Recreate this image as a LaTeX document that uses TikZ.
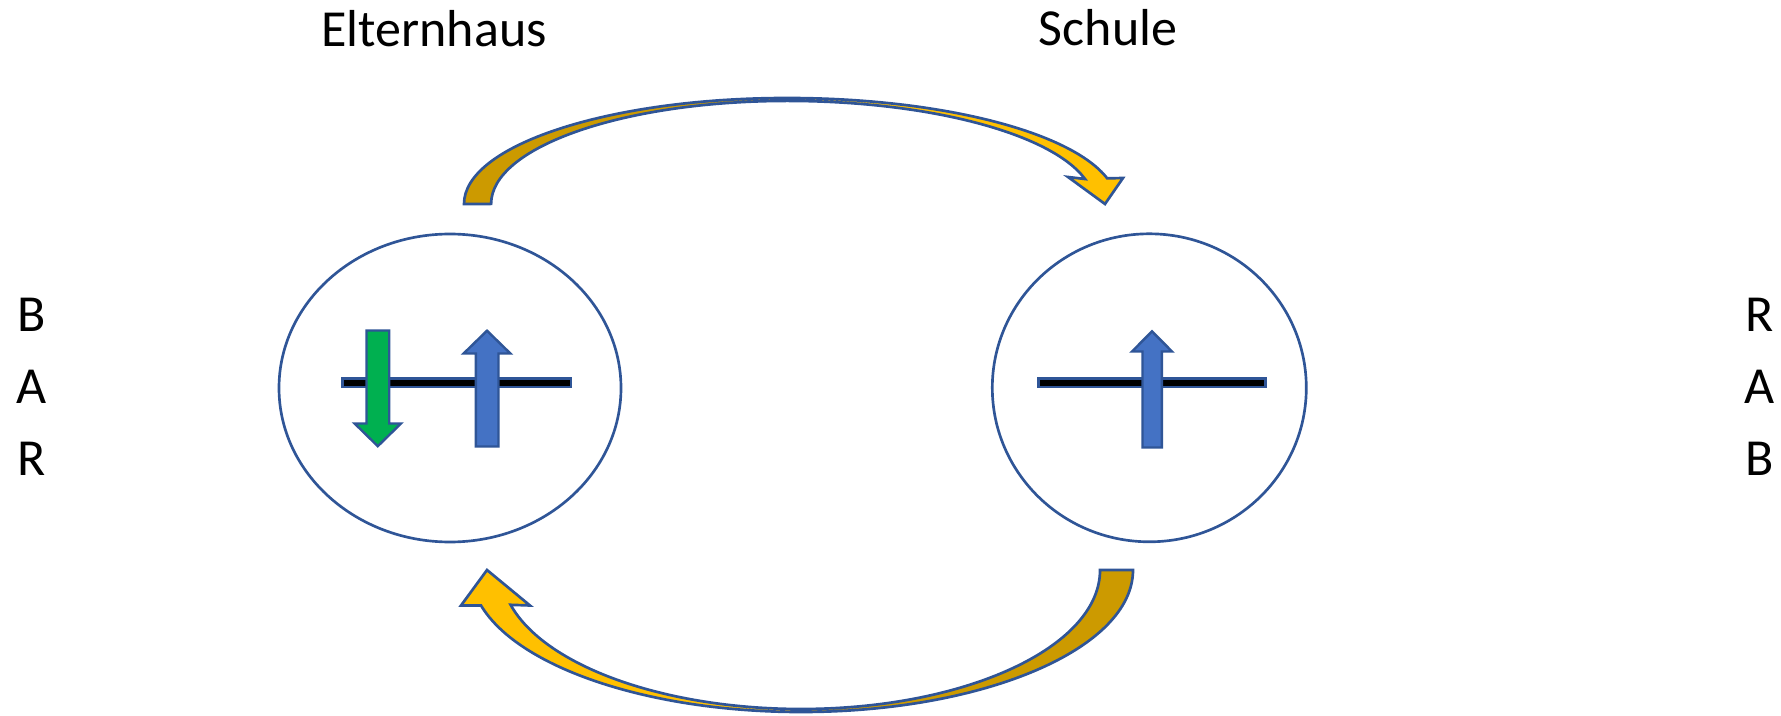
\documentclass[tikz,border=0pt]{standalone}
\usepackage{fontspec}
\setmainfont{Carlito}
\definecolor{rim}{HTML}{2F5597}
\definecolor{gold}{HTML}{FFC000}
\definecolor{darkgold}{HTML}{CC9A00}
\definecolor{spinblue}{HTML}{4472C4}
\definecolor{spingreen}{HTML}{00B050}
\tikzstyle{ring} = [draw=rim, line width=2pt, fill=white]
\tikzstyle{bar} = [draw=rim, line width=2pt, fill=black]
\tikzstyle{spin} = [draw=rim, line width=1.8pt, line join=miter]
\tikzstyle{loopline} = [draw=rim, line width=2pt, line join=miter]
\tikzstyle{headline} = [font=\fontsize{39}{47}\selectfont, anchor=base, inner sep=0pt]

\begin{document}
\begin{tikzpicture}[x=0.75pt,y=0.75pt]
    \useasboundingbox (0,0) rectangle (1781,715);
    \node[headline] (eltern) at (434,668) {Elternhaus};
    \node[headline] (schule) at (1108,669) {Schule};
    \foreach \c [count=\i] in {B,A,R}{
        \node[headline] (left\i) at (32,455-71.7*\i) {\c};
    }
    \foreach \c [count=\i] in {R,A,B}{
        \node[headline] (right\i) at (1760,455-71.7*\i) {\c};
    }
    \draw[ring] (450,327) ellipse [x radius=171, y radius=154];
    \draw[ring] (1149.3,327.2) ellipse [x radius=157, y radius=154];
    \filldraw[bar] (342.3,328) rectangle (571,336.4);
    \filldraw[bar] (1038.6,328) rectangle (1265.4,336.4);
    \filldraw[spin,fill=spingreen] (366.5,384.5) -- (389.2,384.5) -- (389.2,291.5) -- (401,291.5)
        -- (377.8,268.8) -- (354.6,291.5) -- (366.5,291.5) -- cycle;
    \filldraw[spin,fill=spinblue] (475.8,268.5) -- (475.8,361.5) -- (463.6,361.5) -- (487,384.3)
        -- (510.4,361.5) -- (498.5,361.5) -- (498.5,268.5) -- cycle;
    \filldraw[spin,fill=spinblue] (1142.5,267.5) -- (1142.5,363.5) -- (1132,363.5) -- (1152,383.7)
        -- (1172,363.5) -- (1161.9,363.5) -- (1161.9,267.5) -- cycle;
    \fill[darkgold] (464,511) arc[start angle=180, end angle=90, x radius=323, y radius=106]
        -- (787,614) arc[start angle=90, end angle=180, x radius=296, y radius=103] -- cycle;
    \fill[gold] (787,617) arc[start angle=90, end angle=14, x radius=330, y radius=106]
        -- (1123,537) -- (1105,511) -- (1068,538) -- (1085,536)
        arc[start angle=14, end angle=90, x radius=307, y radius=103] -- cycle;
    \draw[loopline] (464,511) arc[start angle=180, end angle=90, x radius=323, y radius=106]
        arc[start angle=90, end angle=14, x radius=330, y radius=106]
        -- (1123,537) -- (1105,511) -- (1068,538) -- (1085,536)
        arc[start angle=14, end angle=90, x radius=307, y radius=103]
        arc[start angle=90, end angle=180, x radius=296, y radius=103] -- cycle;
    \fill[darkgold] (1133,145) arc[start angle=0, end angle=-90, x radius=332, y radius=142]
        -- (801,6) arc[start angle=-90, end angle=0, x radius=299, y radius=139] -- cycle;
    \fill[gold] (801,3) arc[start angle=270, end angle=194.5, x radius=330.5, y radius=142]
        -- (461,109.5) -- (487,145) -- (530,109.5) -- (510.6,110.2)
        arc[start angle=194.5, end angle=270, x radius=300, y radius=139] -- cycle;
    \draw[loopline] (1133,145) arc[start angle=0, end angle=-90, x radius=332, y radius=142]
        arc[start angle=270, end angle=194.5, x radius=330.5, y radius=142]
        -- (461,109.5) -- (487,145) -- (530,109.5) -- (510.6,110.2)
        arc[start angle=194.5, end angle=270, x radius=300, y radius=139]
        arc[start angle=-90, end angle=0, x radius=299, y radius=139] -- cycle;
\end{tikzpicture}
\end{document}
